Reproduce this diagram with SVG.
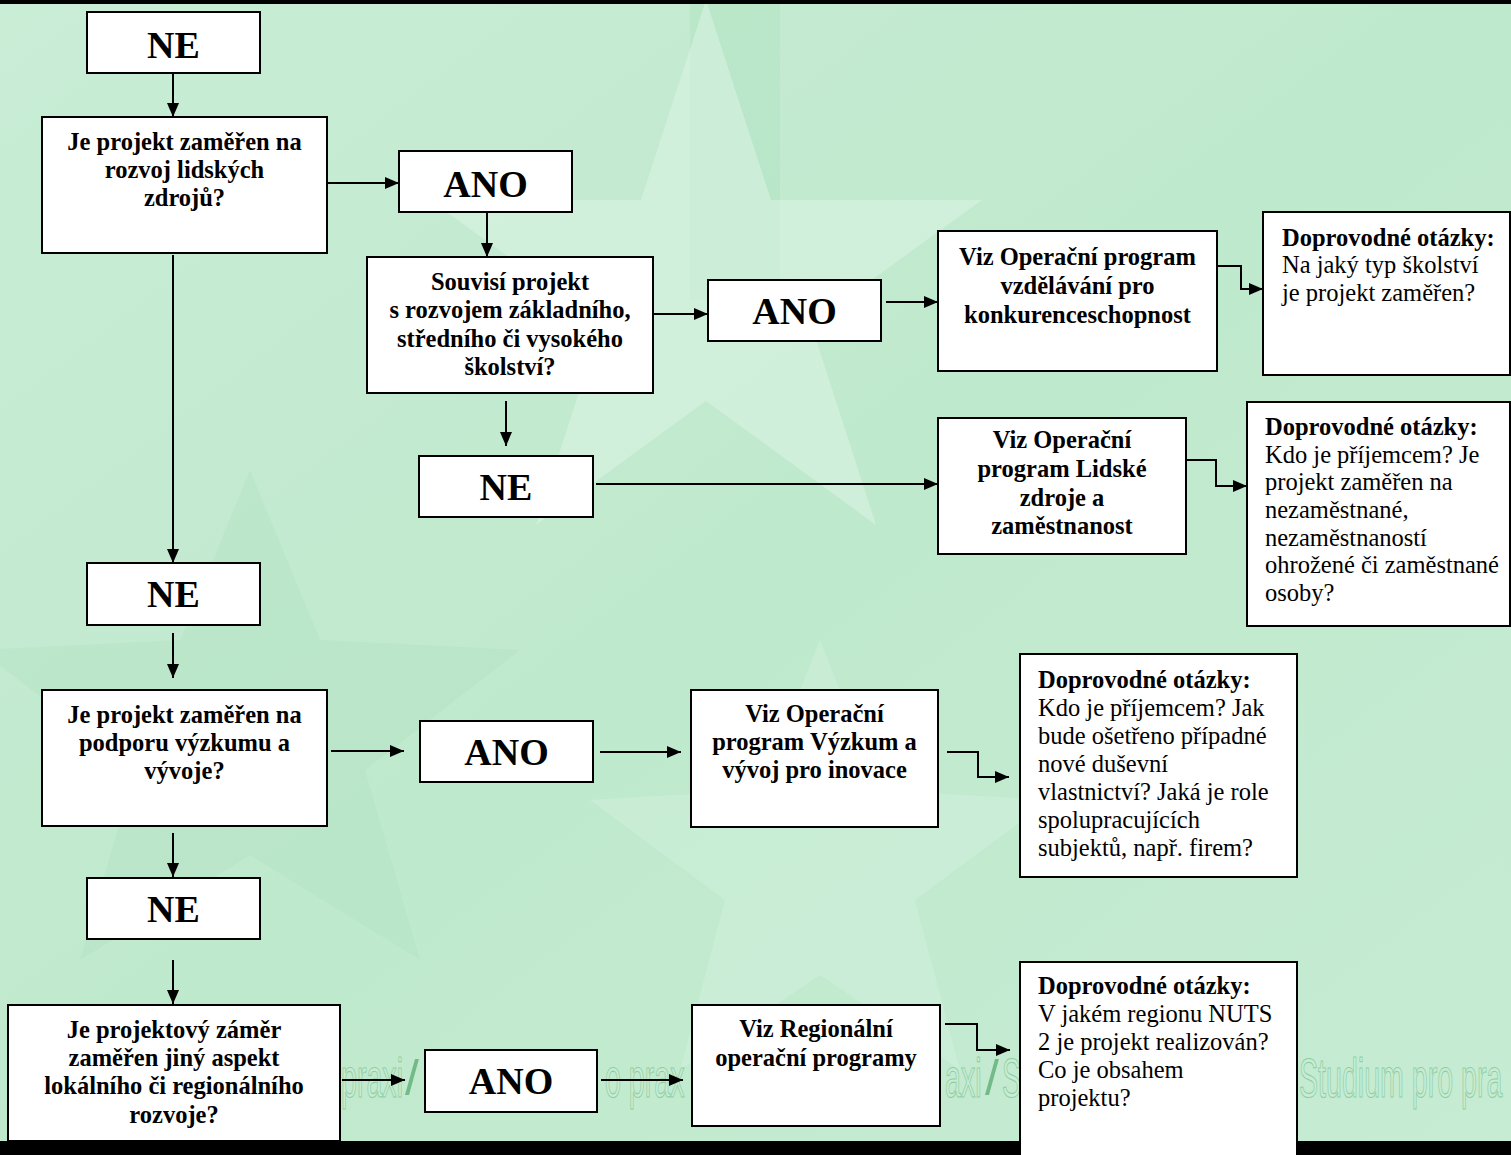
<svg xmlns="http://www.w3.org/2000/svg" width="1511" height="1155" viewBox="0 0 1511 1155">
<style>
.box{fill:#fff;stroke:#000;stroke-width:2}
.big{font-family:"Liberation Serif","Times New Roman",serif;font-weight:bold;font-size:38px;text-anchor:middle;fill:#000}
.bt{font-family:"Liberation Serif","Times New Roman",serif;font-weight:bold;font-size:24.5px;text-anchor:middle;fill:#000}
.rt{font-family:"Liberation Serif","Times New Roman",serif;font-size:24.5px;fill:#000}
.rt .h{font-weight:bold}
.con{fill:none;stroke:#000;stroke-width:2}
.wm{font-family:"Liberation Sans",Arial,sans-serif;font-size:55px;fill:#c9ecd4;stroke:#8fcfa2;stroke-width:1.2}
.sl{font-family:"Liberation Sans",Arial,sans-serif;font-size:50px;fill:#72ba87}
</style>
<defs>
<marker id="ah" markerUnits="userSpaceOnUse" markerWidth="14" markerHeight="12" refX="14" refY="6" orient="auto">
<path d="M0,0 L14,6 L0,12 z" fill="#000"/>
</marker>
<linearGradient id="bg" x1="0" y1="0" x2="1" y2="1">
<stop offset="0" stop-color="#c9edd6"/>
<stop offset="0.5" stop-color="#bfe9cd"/>
<stop offset="1" stop-color="#c6ecd3"/>
</linearGradient>
</defs>
<g id="background">
<rect x="0" y="0" width="1511" height="1155" fill="url(#bg)"/>
<rect x="690" y="0" width="90" height="300" fill="#a9e0bb" opacity="0.4"/>
<polygon points="706,0 771,200 982,200 811,324 876,525 706,401 536,525 601,324 430,200 641,200" fill="#dcf4e5" opacity="0.55"/>
<polygon points="250,470 320,640 520,650 365,770 420,960 250,855 80,960 135,770 -20,650 180,640" fill="#addfbe" opacity="0.3"/>
<polygon points="820,640 880,790 1050,800 915,900 960,1070 820,975 680,1070 725,900 590,800 760,790" fill="#d3f2de" opacity="0.45"/>
<rect x="0" y="0" width="1511" height="4" fill="#000"/>
<rect x="0" y="1141" width="1511" height="14" fill="#000"/>
<g id="watermark">
<text class="wm" transform="translate(341,1097) scale(0.52,1)">praxi</text>
<text class="sl" x="405" y="1095">/</text>
<text class="wm" transform="translate(605,1097) scale(0.52,1)">o prax</text>
<text class="wm" transform="translate(945,1097) scale(0.52,1)">axi</text>
<text class="sl" x="985" y="1095">/</text>
<text class="wm" transform="translate(1002,1097) scale(0.52,1)">S</text>
<text class="wm" transform="translate(1299,1097) scale(0.52,1)">Studium pro pra</text>
</g>
</g>
<g id="connectors">
<path class="con" d="M173,73 V117" marker-end="url(#ah)"/>
<path class="con" d="M327,183 H399" marker-end="url(#ah)"/>
<path class="con" d="M487,212 V257" marker-end="url(#ah)"/>
<path class="con" d="M653,314 H708" marker-end="url(#ah)"/>
<path class="con" d="M886,302 H938" marker-end="url(#ah)"/>
<path class="con" d="M1217,266 H1241 V289 H1263" marker-end="url(#ah)"/>
<path class="con" d="M506,401 V446" marker-end="url(#ah)"/>
<path class="con" d="M596,484 H938" marker-end="url(#ah)"/>
<path class="con" d="M1186,460 H1216 V486 H1247" marker-end="url(#ah)"/>
<path class="con" d="M173,255 V563" marker-end="url(#ah)"/>
<path class="con" d="M173,633 V678" marker-end="url(#ah)"/>
<path class="con" d="M331,751 H404" marker-end="url(#ah)"/>
<path class="con" d="M600,752 H681" marker-end="url(#ah)"/>
<path class="con" d="M947,752 H978 V777 H1009" marker-end="url(#ah)"/>
<path class="con" d="M173,833 V877" marker-end="url(#ah)"/>
<path class="con" d="M173,960 V1004" marker-end="url(#ah)"/>
<path class="con" d="M342,1080 H405" marker-end="url(#ah)"/>
<path class="con" d="M601,1080 H683" marker-end="url(#ah)"/>
<path class="con" d="M945,1024 H977 V1050 H1010" marker-end="url(#ah)"/>
</g>
<g id="ne1"><rect class="box" x="87" y="12" width="173" height="61"/><text class="big" x="173.5" y="58">NE</text></g>
<g id="q1"><rect class="box" x="42" y="117" width="285" height="136"/>
<text class="bt" x="184.5" y="150">Je projekt zaměřen na</text>
<text class="bt" x="184.5" y="178">rozvoj lidských</text>
<text class="bt" x="184.5" y="206">zdrojů?</text></g>
<g id="ano1"><rect class="box" x="399" y="151" width="173" height="61"/><text class="big" x="485.5" y="197">ANO</text></g>
<g id="q2"><rect class="box" x="367" y="257" width="286" height="136"/>
<text class="bt" x="510" y="290">Souvisí projekt</text>
<text class="bt" x="510" y="318">s rozvojem základního,</text>
<text class="bt" x="510" y="347">středního či vysokého</text>
<text class="bt" x="510" y="375">školství?</text></g>
<g id="ano2"><rect class="box" x="708" y="280" width="173" height="61"/><text class="big" x="794.5" y="324">ANO</text></g>
<g id="viz1"><rect class="box" x="938" y="231" width="279" height="140"/>
<text class="bt" x="1077.5" y="265">Viz Operační program</text>
<text class="bt" x="1077.5" y="294">vzdělávání pro</text>
<text class="bt" x="1077.5" y="323">konkurenceschopnost</text></g>
<g id="d1"><rect class="box" x="1263" y="212" width="247" height="163"/>
<text class="rt" x="1282" y="246"><tspan class="h">Doprovodné otázky:</tspan></text>
<text class="rt" x="1282" y="273">Na jaký typ školství</text>
<text class="rt" x="1282" y="301">je projekt zaměřen?</text></g>
<g id="ne2"><rect class="box" x="419" y="456" width="174" height="61"/><text class="big" x="506" y="500">NE</text></g>
<g id="viz2"><rect class="box" x="938" y="418" width="248" height="136"/>
<text class="bt" x="1062" y="448">Viz Operační</text>
<text class="bt" x="1062" y="477">program Lidské</text>
<text class="bt" x="1062" y="506">zdroje a</text>
<text class="bt" x="1062" y="534">zaměstnanost</text></g>
<g id="d2"><rect class="box" x="1247" y="402" width="263" height="224"/>
<text class="rt" x="1265" y="435"><tspan class="h">Doprovodné otázky:</tspan></text>
<text class="rt" x="1265" y="463">Kdo je příjemcem? Je</text>
<text class="rt" x="1265" y="490">projekt zaměřen na</text>
<text class="rt" x="1265" y="518">nezaměstnané,</text>
<text class="rt" x="1265" y="546">nezaměstnaností</text>
<text class="rt" x="1265" y="573">ohrožené či zaměstnané</text>
<text class="rt" x="1265" y="601">osoby?</text></g>
<g id="ne3"><rect class="box" x="87" y="563" width="173" height="62"/><text class="big" x="173.5" y="607">NE</text></g>
<g id="q3"><rect class="box" x="42" y="690" width="285" height="136"/>
<text class="bt" x="184.5" y="723">Je projekt zaměřen na</text>
<text class="bt" x="184.5" y="751">podporu výzkumu a</text>
<text class="bt" x="184.5" y="779">vývoje?</text></g>
<g id="ano3"><rect class="box" x="420" y="721" width="173" height="61"/><text class="big" x="506.5" y="765">ANO</text></g>
<g id="viz3"><rect class="box" x="691" y="690" width="247" height="137"/>
<text class="bt" x="814.5" y="722">Viz Operační</text>
<text class="bt" x="814.5" y="750">program Výzkum a</text>
<text class="bt" x="814.5" y="778">vývoj pro inovace</text></g>
<g id="d3"><rect class="box" x="1020" y="654" width="277" height="223"/>
<text class="rt" x="1038" y="688"><tspan class="h">Doprovodné otázky:</tspan></text>
<text class="rt" x="1038" y="716">Kdo je příjemcem? Jak</text>
<text class="rt" x="1038" y="744">bude ošetřeno případné</text>
<text class="rt" x="1038" y="772">nové duševní</text>
<text class="rt" x="1038" y="800">vlastnictví? Jaká je role</text>
<text class="rt" x="1038" y="828">spolupracujících</text>
<text class="rt" x="1038" y="856">subjektů, např. firem?</text></g>
<g id="ne4"><rect class="box" x="87" y="878" width="173" height="61"/><text class="big" x="173.5" y="922">NE</text></g>
<g id="q4"><rect class="box" x="8" y="1005" width="332" height="136"/>
<text class="bt" x="174" y="1038">Je projektový záměr</text>
<text class="bt" x="174" y="1066">zaměřen jiný aspekt</text>
<text class="bt" x="174" y="1094">lokálního či regionálního</text>
<text class="bt" x="174" y="1123">rozvoje?</text></g>
<g id="ano4"><rect class="box" x="425" y="1050" width="172" height="62"/><text class="big" x="511" y="1094">ANO</text></g>
<g id="viz4"><rect class="box" x="692" y="1005" width="248" height="121"/>
<text class="bt" x="816" y="1037">Viz Regionální</text>
<text class="bt" x="816" y="1066">operační programy</text></g>
<g id="d4"><rect class="box" x="1020" y="962" width="277" height="203"/>
<text class="rt" x="1038" y="994"><tspan class="h">Doprovodné otázky:</tspan></text>
<text class="rt" x="1038" y="1022">V jakém regionu NUTS</text>
<text class="rt" x="1038" y="1050">2 je projekt realizován?</text>
<text class="rt" x="1038" y="1078">Co je obsahem</text>
<text class="rt" x="1038" y="1106">projektu?</text></g>
</svg>
